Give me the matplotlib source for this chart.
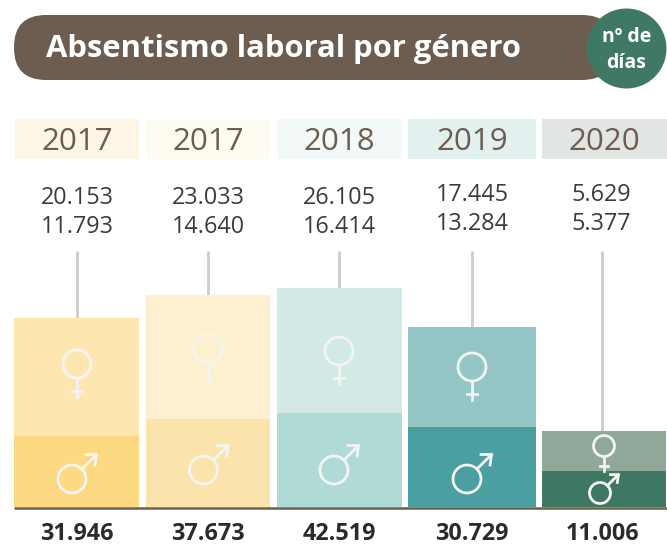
import matplotlib
matplotlib.use("Agg")
import matplotlib.pyplot as plt
from matplotlib.patches import Circle, FancyBboxPatch, Rectangle

plt.rcParams['font.family'] = ['Open Sans', 'DejaVu Sans']

# datos
titulo = "Absentismo laboral por género"
unidad = "nº de\ndías"
anios = ["2017", "2017", "2018", "2019", "2020"]
mujeres = ["20.153", "23.033", "26.105", "17.445", "5.629"]
hombres = ["11.793", "14.640", "16.414", "13.284", "5.377"]
totales = ["31.946", "37.673", "42.519", "30.729", "11.006"]

# las barras del original no van a escala con las cifras: alturas leidas en pixeles
alto_hombres = [71, 88, 94, 80, 36]
alto_mujeres = [118, 124, 125, 100, 40]

# estilo y posiciones
x_izq = [14, 146, 277, 408, 542]
x_der = [139, 270, 402, 536, 666]
caja_izq = [15, 146, 277, 408, 542]
caja_der = [139, 270, 402, 536, 667]
color_caja = ["#fdf6e5", "#fefbf1", "#f3f9f8", "#e2f0f0", "#e1e5e3"]
color_mujer = ["#fde6b0", "#fdf0cf", "#d2e9e5", "#94c6c6", "#8fa89a"]
color_hombre = ["#fdd982", "#fbe4ac", "#b0dad6", "#4a9fa1", "#3e7764"]
x_guia = [77, 208, 339, 472, 602]
x_texto = [77, 208, 339, 472, 601]
x_total = [77, 208, 339, 472, 602]
y_mujer = [198, 198, 198, 195, 195]
y_hombre = [227, 227, 227, 224, 224]
centro_mujer = [(77, 364), (208, 349), (339, 351), (472, 367), (604, 446)]
centro_hombre = [(72, 479), (203.5, 470), (334, 470), (467, 479), (600, 493)]
radio = [14, 14, 14, 14, 10.5]
base = 507
marron = "#6d5d50"
verde = "#3f7864"
blanco = "#f4f4f2"
grosor = 2.0

fig = plt.figure(figsize=(6.67, 5.47), dpi=100)
ax = fig.add_axes([0, 0, 1, 1])
ax.set_xlim(0, 667)
ax.set_ylim(547, 0)
ax.axis("off")

# cabecera
ax.add_patch(FancyBboxPatch((14, 15), 600, 65, boxstyle="round,pad=0,rounding_size=32",
                            fc=marron, ec="none", zorder=2))
ax.add_patch(Circle((626.5, 48.5), 40, fc=verde, ec="none", zorder=3))
ax.text(284, 49, titulo, color="white", fontsize=22.3, fontweight="bold",
        ha="center", va="center", zorder=4)
ax.text(626.5, 50, unidad, color="white", fontsize=14, fontweight="bold",
        ha="center", va="center", linespacing=1.4, zorder=4)


def simbolo_mujer(cx, cy, r):
    ax.add_patch(Circle((cx, cy), r, fc="none", ec=blanco, lw=grosor, zorder=6))
    fin = cy + r * 2.35
    ax.plot([cx, cx], [cy + r, fin], color=blanco, lw=grosor, zorder=6)
    ax.plot([cx - r * 0.38, cx + r * 0.38], [fin - r * 0.45] * 2, color=blanco, lw=grosor, zorder=6)


def simbolo_hombre(cx, cy, r):
    ax.add_patch(Circle((cx, cy), r, fc="none", ec=blanco, lw=grosor, zorder=6))
    a = r * 0.71
    b = r * 1.75
    ax.plot([cx + a, cx + b], [cy - a, cy - b], color=blanco, lw=grosor, zorder=6)
    ax.plot([cx + b - r * 0.75, cx + b, cx + b - r * 0.1],
            [cy - b, cy - b, cy - b + r * 0.75], color=blanco, lw=grosor, zorder=6)


for i in range(5):
    # caja del anio
    ax.add_patch(Rectangle((caja_izq[i], 119), caja_der[i] - caja_izq[i], 40, fc=color_caja[i], ec="none"))
    ax.text((caja_izq[i] + caja_der[i]) / 2, 142.5, anios[i], color=marron, fontsize=22.5,
            ha="center", va="center")

    # cifras
    ax.text(x_texto[i], y_mujer[i], mujeres[i], color="#3c3c3c", fontsize=16.8, ha="center", va="center")
    ax.text(x_texto[i], y_hombre[i], hombres[i], color="#3c3c3c", fontsize=16.8, ha="center", va="center")

    # barras
    ancho = x_der[i] - x_izq[i]
    ax.bar(x_izq[i], alto_hombres[i], ancho, bottom=base - alto_hombres[i], align="edge",
           color=color_hombre[i], zorder=3)
    tope = base - alto_hombres[i] - alto_mujeres[i]
    ax.bar(x_izq[i], alto_mujeres[i], ancho, bottom=tope, align="edge",
           color=color_mujer[i], zorder=3)

    # guia gris
    ax.plot([x_guia[i], x_guia[i]], [251, tope], color="#cccccc", lw=2, zorder=2, solid_capstyle="butt")

    simbolo_mujer(centro_mujer[i][0], centro_mujer[i][1], radio[i])
    simbolo_hombre(centro_hombre[i][0], centro_hombre[i][1], radio[i])

    ax.text(x_total[i], 534.5, totales[i], color="#2b2b2b", fontsize=16.8, fontweight="bold",
            ha="center", va="center")

# linea base
ax.plot([14, 667], [508, 508], color=marron, lw=1.8, zorder=5, solid_capstyle="butt")

fig.savefig("out.png", dpi=100)
